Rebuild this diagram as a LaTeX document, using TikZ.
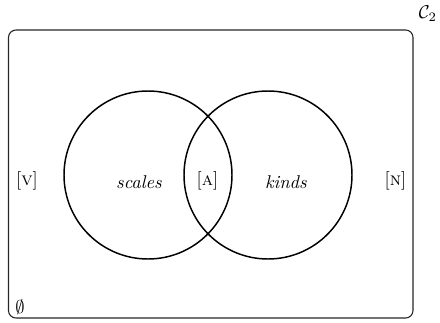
\documentclass[tikz,border=0pt]{standalone}
\usepackage{amssymb}
\begin{document}
\begin{tikzpicture}[x=0.5405pt,y=-0.5405pt,
  setcircle/.style={draw=black,line width=0.8pt},
  frame/.style={draw=black!85,line width=0.6pt,rounded corners=4pt},
  lbl/.style={inner sep=0pt,anchor=base}]
  \useasboundingbox (0,0) rectangle (440,322);
  % universe frame
  \draw[frame] (8.5,30) rectangle (413,318);
  \node[lbl] (c2) at (428,19) {$\mathcal{C}_2$};
  \node[lbl] (empty) at (20,313) {$\emptyset$};
  % the two sets
  \node[setcircle,circle,minimum size=168*0.5405pt,inner sep=0pt] (scl) at (148,175) {};
  \node[setcircle,circle,minimum size=168*0.5405pt,inner sep=0pt] (knd) at (268,175) {};
  % region labels
  \node[lbl] (v) at (27,185) {[\textsc{v}]};
  \node[lbl] (s) at (139,188) {\textit{scales}};
  \node[lbl] (a) at (207.5,185) {[\textsc{a}]};
  \node[lbl] (k) at (286,188) {\textit{kinds}};
  \node[lbl] (n) at (395.5,185) {[\textsc{n}]};
\end{tikzpicture}
\end{document}
